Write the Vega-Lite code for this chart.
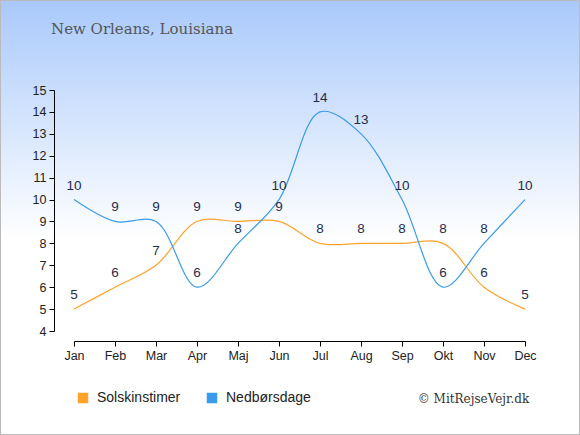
{
  "$schema": "https://vega.github.io/schema/vega-lite/v6.json",
  "width": 580,
  "height": 435,
  "autosize": "none",
  "padding": 0,
  "background": "white",
  "title": {
    "text": "New Orleans, Louisiana",
    "anchor": "start",
    "frame": "group",
    "orient": "top",
    "offset": -37,
    "dx": 51,
    "font": "DejaVu Serif",
    "fontSize": 15,
    "fontWeight": "normal",
    "color": "#555555"
  },
  "data": {
    "values": [
      {"month": "Jan", "series": "Solskinstimer", "value": 5},
      {"month": "Feb", "series": "Solskinstimer", "value": 6},
      {"month": "Mar", "series": "Solskinstimer", "value": 7},
      {"month": "Apr", "series": "Solskinstimer", "value": 9},
      {"month": "Maj", "series": "Solskinstimer", "value": 9},
      {"month": "Jun", "series": "Solskinstimer", "value": 9},
      {"month": "Jul", "series": "Solskinstimer", "value": 8},
      {"month": "Aug", "series": "Solskinstimer", "value": 8},
      {"month": "Sep", "series": "Solskinstimer", "value": 8},
      {"month": "Okt", "series": "Solskinstimer", "value": 8},
      {"month": "Nov", "series": "Solskinstimer", "value": 6},
      {"month": "Dec", "series": "Solskinstimer", "value": 5},
      {"month": "Jan", "series": "Nedbørsdage", "value": 10},
      {"month": "Feb", "series": "Nedbørsdage", "value": 9},
      {"month": "Mar", "series": "Nedbørsdage", "value": 9},
      {"month": "Apr", "series": "Nedbørsdage", "value": 6},
      {"month": "Maj", "series": "Nedbørsdage", "value": 8},
      {"month": "Jun", "series": "Nedbørsdage", "value": 10},
      {"month": "Jul", "series": "Nedbørsdage", "value": 14},
      {"month": "Aug", "series": "Nedbørsdage", "value": 13},
      {"month": "Sep", "series": "Nedbørsdage", "value": 10},
      {"month": "Okt", "series": "Nedbørsdage", "value": 6},
      {"month": "Nov", "series": "Nedbørsdage", "value": 8},
      {"month": "Dec", "series": "Nedbørsdage", "value": 10}
    ]
  },
  "encoding": {
    "x": {
      "field": "month",
      "type": "ordinal",
      "sort": ["Jan", "Feb", "Mar", "Apr", "Maj", "Jun", "Jul", "Aug", "Sep", "Okt", "Nov", "Dec"],
      "scale": {"type": "point", "range": [74, 525], "padding": 0},
      "axis": {
        "orient": "bottom",
        "offset": -94,
        "labelAngle": 0,
        "title": "© MitRejseVejr.dk",
        "titleX": 473,
        "titleY": 57,
        "titleAlign": "center",
        "titleBaseline": "middle",
        "titleFont": "DejaVu Serif",
        "titleFontSize": 12,
        "titleFontWeight": "normal",
        "titleColor": "#333333"
      }
    },
    "y": {
      "field": "value",
      "type": "quantitative",
      "scale": {"domain": [4, 15], "range": [331, 90], "nice": false, "zero": false},
      "axis": {
        "orient": "left",
        "offset": -54,
        "values": [4, 5, 6, 7, 8, 9, 10, 11, 12, 13, 14, 15],
        "title": null,
        "grid": false
      }
    },
    "color": {
      "field": "series",
      "type": "nominal",
      "sort": ["Solskinstimer", "Nedbørsdage"],
      "scale": {"domain": ["Solskinstimer", "Nedbørsdage"], "range": ["#ffa32a", "#3a9bec"]},
      "legend": {
        "orient": "none",
        "legendX": 76,
        "legendY": 391,
        "direction": "horizontal",
        "title": null,
        "symbolType": "square",
        "symbolSize": 110,
        "labelFont": "Liberation Sans",
        "labelFontSize": 14,
        "labelColor": "#222222",
        "labelOffset": 7,
        "columnPadding": 24,
        "encode": {
          "symbols": {
            "update": {
              "fill": {"scale": "color", "field": "value"},
              "fillOpacity": {"value": 1},
              "strokeWidth": {"value": 0}
            }
          }
        }
      }
    }
  },
  "layer": [
    {
      "mark": {"type": "line", "interpolate": "catmull-rom", "strokeWidth": 1.2}
    },
    {
      "mark": {"type": "text", "dy": -14, "baseline": "middle", "font": "Liberation Sans", "fontSize": 13.5, "color": "#1f2d4d"},
      "encoding": {
        "text": {"field": "value", "type": "quantitative"},
        "color": {"value": "#1f2d4d"}
      }
    }
  ],
  "config": {
    "view": {
      "fill": {
        "gradient": "linear",
        "x1": 0, "y1": 0, "x2": 0, "y2": 1,
        "stops": [
          {"offset": 0, "color": "#a9c9fb"},
          {"offset": 0.55, "color": "#ffffff"},
          {"offset": 1, "color": "#ffffff"}
        ]
      },
      "stroke": "#bbbbbb",
      "strokeWidth": 2
    },
    "axis": {
      "domainColor": "#000000",
      "tickColor": "#000000",
      "tickSize": 5,
      "labelFont": "Liberation Sans",
      "labelFontSize": 12.5,
      "labelColor": "#222222",
      "labelPadding": 3
    }
  }
}
